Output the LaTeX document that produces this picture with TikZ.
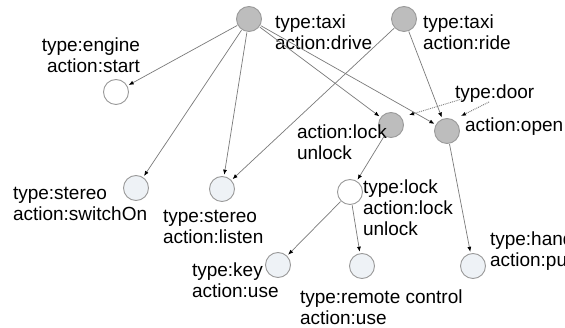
\documentclass[tikz,border=0pt]{standalone}
\usepackage{fontspec}
\setmainfont{Liberation Sans}
\usetikzlibrary{arrows.meta}
\definecolor{darkfill}{HTML}{BDBDBD}
\definecolor{lightfill}{HTML}{EEF2F6}
\definecolor{rimcol}{HTML}{9A9A9A}
\definecolor{edgecol}{HTML}{7A7A7A}
\tikzset{
  dot/.style={circle,draw=rimcol,line width=0.9pt,minimum size=25pt,inner sep=0pt},
  darknode/.style={dot,fill=darkfill},
  whitenode/.style={dot,fill=white},
  lightnode/.style={dot,fill=lightfill},
  lbl/.style={inner sep=0pt,outer sep=0pt,font=\fontsize{19}{21}\selectfont,align=left,anchor=north west},
  edge/.style={draw=edgecol,line width=0.7pt,-{Latex[length=5pt,width=4pt,color=black]},shorten >=1.5pt,shorten <=0.5pt},
  dedge/.style={draw=edgecol,line width=0.9pt,densely dotted,-{Latex[length=5pt,width=4pt,color=black]}}
}
\begin{document}
\begin{tikzpicture}[x=1pt,y=-1pt]
\path[use as bounding box,fill=white] (0,0) rectangle (565,328);
\begin{scope}
\clip (0,0) rectangle (565,328);
% nodes
\node[darknode] (drive) at (249,19) {};
\node[darknode] (ride) at (404,19) {};
\node[whitenode] (engine) at (116,92) {};
\node[darknode] (lockun) at (391,125) {};
\node[darknode] (open) at (447,131) {};
\node[lightnode] (sw) at (136,188) {};
\node[lightnode] (listen) at (222,189) {};
\node[whitenode] (lock) at (350,192) {};
\node[lightnode] (key) at (278,265) {};
\node[lightnode] (remote) at (362,266) {};
\node[lightnode] (handle) at (473,266) {};
% labels
\node[lbl] (ldrive) at (275,15) {type:taxi\\action:drive};
\node[lbl] (lride) at (423,15) {type:taxi\\action:ride};
\node[lbl,anchor=north east,align=right] (lengine) at (140,38) {type:engine\\action:start};
\node[lbl] (door) at (455,85) {type:door};
\node[lbl] (llockun) at (297,125) {action:lock\\unlock};
\node[lbl] (lopen) at (465,118) {action:open};
\node[lbl] (lsw) at (13,187) {type:stereo\\action:switchOn};
\node[lbl] (llisten) at (163,210) {type:stereo\\action:listen};
\node[lbl] (lkey) at (192,263) {type:key\\action:use};
\node[lbl] (llock) at (363,180) {type:lock\\action:lock\\unlock};
\node[lbl] (lremote) at (300,290) {type:remote control\\action:use};
\node[lbl] (lhandle) at (490,232) {type:handle\\action:pull};
% edges
\draw[edge] (drive) -- (engine);
\draw[edge] (drive) -- (sw);
\draw[edge] (drive) -- (listen);
\draw[edge] (drive) -- (lockun);
\draw[edge] (drive) -- (open);
\draw[edge] (ride) -- (listen);
\draw[edge] (ride) -- (open);
\draw[edge] (lockun) -- (lock);
\draw[edge] (lock) -- (key);
\draw[edge] (lock) -- (remote);
\draw[edge] (open) -- (handle);
\coordinate (d1) at (462,99);
\coordinate (t1) at (409,115);
\coordinate (d2) at (489,102);
\coordinate (t2) at (461,116);
\draw[dedge] (d1) -- (t1);
\draw[dedge] (d2) -- (t2);
\end{scope}
\end{tikzpicture}
\end{document}
